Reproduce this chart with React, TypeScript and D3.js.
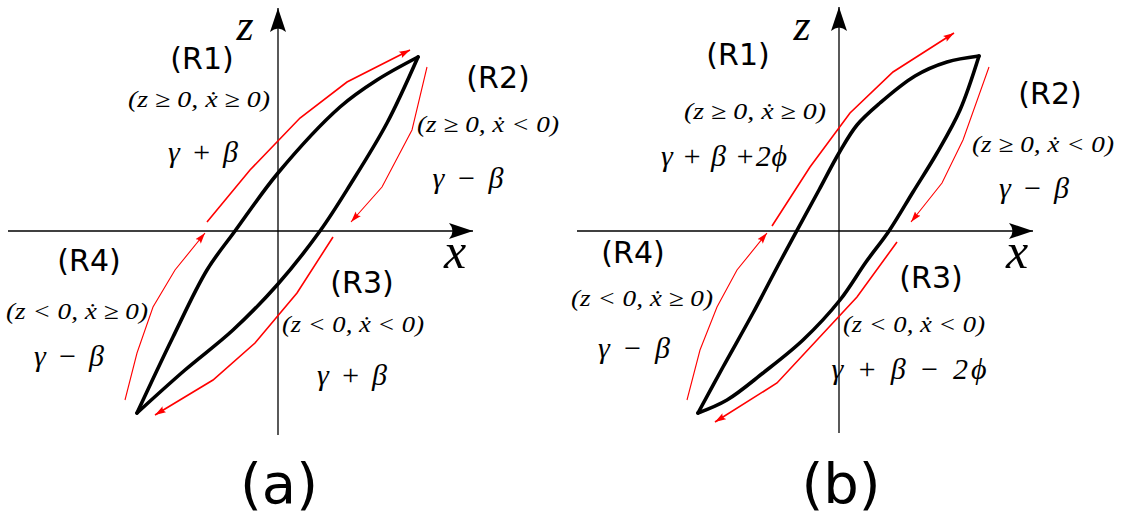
import React from "react";
import * as d3 from "d3";

type Pt = [number, number];

// loop branches and flow arrows, x / z measured from the axes crossing (1 unit = 100px)
const loopAUpper: Pt[] = [[-1.41, -1.82], [-1.05, -1.06], [-0.71, -0.39], [-0.43, 0], [0, 0.58], [0.62, 1.24], [0.99, 1.51], [1.4, 1.74]];
const loopALower: Pt[] = [[-1.41, -1.82], [-0.93, -1.39], [-0.45, -0.99], [0, -0.53], [0.42, 0], [0.72, 0.46], [1.09, 1.08], [1.4, 1.74]];
const flowAR1: Pt[] = [[-0.71, 0.09], [-0.28, 0.61], [0.22, 1.13], [0.69, 1.49], [1.32, 1.81]];
const flowAR2: Pt[] = [[1.49, 1.64], [1.34, 1.01], [1.04, 0.44], [0.73, 0.09]];
const flowAR3: Pt[] = [[0.55, -0.06], [0.19, -0.62], [-0.23, -1.12], [-0.65, -1.49], [-1.23, -1.84]];
const flowAR4: Pt[] = [[-1.53, -1.69], [-1.41, -1.22], [-1.25, -0.76], [-1.03, -0.39], [-0.73, -0.02]];

const loopBUpper: Pt[] = [[-1.41, -1.82], [-1.16, -1.36], [-0.86, -0.82], [-0.58, -0.29], [-0.2, 0.41], [0, 0.78], [0.18, 1.06], [0.41, 1.28], [0.76, 1.55], [1.08, 1.69], [1.4, 1.75]];
const loopBLower: Pt[] = [[-1.41, -1.82], [-1.12, -1.69], [-0.76, -1.42], [-0.36, -1.09], [0.01, -0.69], [0.27, -0.31], [0.5, 0], [0.74, 0.39], [0.98, 0.78], [1.21, 1.21], [1.4, 1.75]];
const flowBR1: Pt[] = [[-0.67, 0.05], [-0.29, 0.64], [0.11, 1.18], [0.54, 1.59], [1.15, 1.98]];
const flowBR2: Pt[] = [[1.5, 1.64], [1.24, 0.91], [1.03, 0.48], [0.72, 0.09]];
const flowBR3: Pt[] = [[0.58, -0.11], [0.18, -0.66], [-0.22, -1.09], [-0.62, -1.52], [-1.24, -1.91]];
const flowBR4: Pt[] = [[-1.52, -1.69], [-1.39, -1.19], [-1.22, -0.76], [-1.02, -0.39], [-0.72, -0.02]];

const regionNames = ["(R1)", "(R2)", "(R3)", "(R4)"];
const regionConditions = ["(z ≥ 0, ẋ ≥ 0)", "(z ≥ 0, ẋ < 0)", "(z < 0, ẋ < 0)", "(z < 0, ẋ ≥ 0)"];
const stiffnessA = ["γ + β", "γ − β", "γ + β", "γ − β"];
const stiffnessB = ["γ + β +2ϕ", "γ − β", "γ + β − 2ϕ", "γ − β"];
const panelNames = ["(a)", "(b)"];
const axisNames = ["x", "z"];

const W = 1128;
const H = 517;
const sans = "'DejaVu Sans', sans-serif";
const serif = "'Liberation Serif', 'DejaVu Serif', serif";

const panels = [
  {
    cx: 278, cy: 231, xExt: [-2.7, 1.95], zExt: [-2.04, 2.23],
    upper: loopAUpper, lower: loopALower,
    flows: [flowAR1, flowAR2, flowAR3, flowAR4], flowW: [1.6, 1.1, 1.6, 1.1],
    stiff: stiffnessA,
    nameAt: [[202, 69], [498, 88], [362, 293], [89, 271]],
    condAt: [[199, 107], [488, 132], [353, 332], [77, 319]],
    stiffAt: [[203, 162], [468, 188], [352, 385], [69, 366]],
    stiffW: [70, 71, 70, 70],
    xLab: [455, 268], zLab: [245, 40], title: [279, 503],
  },
  {
    cx: 839, cy: 231, xExt: [-2.62, 1.94], zExt: [-2.02, 2.24],
    upper: loopBUpper, lower: loopBLower,
    flows: [flowBR1, flowBR2, flowBR3, flowBR4], flowW: [1.6, 1.1, 1.6, 1.1],
    stiff: stiffnessB,
    nameAt: [[738, 65], [1050, 104], [931, 288], [633, 263]],
    condAt: [[755, 119], [1043, 152], [914, 332], [642, 306]],
    stiffAt: [[724, 166], [1034, 198], [909, 379], [634, 358]],
    stiffW: [126, 70, 155, 72],
    xLab: [1017, 268], zLab: [802, 40], title: [841, 503],
  },
];

const Panel = ({ p, i }: { p: any; i: number }) => {
  const x = d3.scaleLinear().domain([-1, 1]).range([p.cx - 100, p.cx + 100]);
  const z = d3.scaleLinear().domain([-1, 1]).range([p.cy + 100, p.cy - 100]);
  const smooth = d3.line<Pt>().x((d) => x(d[0])).y((d) => z(d[1])).curve(d3.curveCatmullRom.alpha(0.5));
  const straight = d3.line<Pt>().x((d) => x(d[0])).y((d) => z(d[1]));

  return (
    <g>
      {/* axes */}
      <line x1={x(p.xExt[0])} y1={z(0)} x2={x(p.xExt[1])} y2={z(0)} stroke="#000" strokeWidth={1.3} markerEnd="url(#axisHead)" />
      <line x1={x(0)} y1={z(p.zExt[0])} x2={x(0)} y2={z(p.zExt[1])} stroke="#000" strokeWidth={1.3} markerEnd="url(#axisHead)" />

      {/* hysteresis loop */}
      <path d={smooth(p.upper) || ""} fill="none" stroke="#000" strokeWidth={3.6} strokeLinecap="round" />
      <path d={smooth(p.lower) || ""} fill="none" stroke="#000" strokeWidth={3.6} strokeLinecap="round" />

      {/* direction arrows */}
      {p.flows.map((f: Pt[], k: number) => (
        <path key={k} d={straight(f) || ""} fill="none" stroke="#f00" strokeWidth={p.flowW[k]} markerEnd="url(#flowHead)" />
      ))}

      {regionNames.map((n, k) => (
        <text key={"n" + k} x={p.nameAt[k][0]} y={p.nameAt[k][1]} textAnchor="middle" fontFamily={sans} fontSize={30}>
          {n}
        </text>
      ))}
      {regionConditions.map((c, k) => (
        <text key={"c" + k} x={p.condAt[k][0]} y={p.condAt[k][1]} textAnchor="middle" fontFamily={serif}
          fontStyle="italic" fontSize={23} textLength={142} lengthAdjust="spacingAndGlyphs">
          {c}
        </text>
      ))}
      {p.stiff.map((s: string, k: number) => (
        <text key={"s" + k} x={p.stiffAt[k][0]} y={p.stiffAt[k][1]} textAnchor="middle" fontFamily={serif}
          fontStyle="italic" fontSize={30} textLength={p.stiffW[k]} lengthAdjust="spacing">
          {s}
        </text>
      ))}

      <text x={p.xLab[0]} y={p.xLab[1]} textAnchor="middle" fontFamily={serif} fontStyle="italic" fontSize={50}>
        {axisNames[0]}
      </text>
      <text x={p.zLab[0]} y={p.zLab[1]} textAnchor="middle" fontFamily={serif} fontStyle="italic" fontSize={44}>
        {axisNames[1]}
      </text>
      <text x={p.title[0]} y={p.title[1]} textAnchor="middle" fontFamily={sans} fontSize={56}>
        {panelNames[i]}
      </text>
    </g>
  );
};

export default function App() {
  return (
    <svg width={W} height={H} style={{ position: "absolute", left: 0, top: 0, background: "#fff" }}>
      <defs>
        <marker id="axisHead" viewBox="0 0 26 18" refX={24} refY={9} markerWidth={26} markerHeight={18}
          markerUnits="userSpaceOnUse" orient="auto">
          <path d="M24,9 L0,1 Q7,9 0,17 Z" fill="#000" />
        </marker>
        <marker id="flowHead" viewBox="0 0 12 8" refX={11} refY={4} markerWidth={12} markerHeight={8}
          markerUnits="userSpaceOnUse" orient="auto">
          <path d="M11,4 L0,0.5 Q3,4 0,7.5 Z" fill="#f00" />
        </marker>
      </defs>
      {panels.map((p, i) => (
        <Panel key={i} p={p} i={i} />
      ))}
    </svg>
  );
}
